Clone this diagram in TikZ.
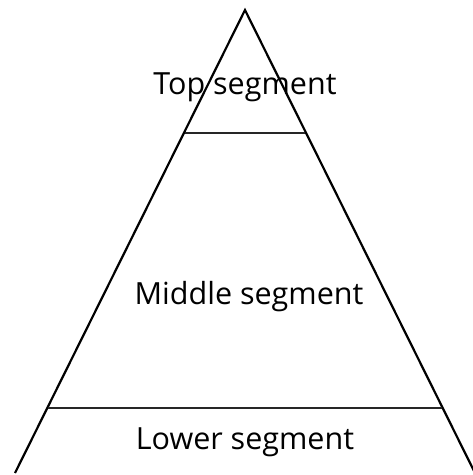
\documentclass[tikz,border=0pt]{standalone}
\usepackage{fontspec}
\setmainfont{Open Sans}
\usepackage{tikz}
\usetikzlibrary{positioning}

\begin{document}
\begin{tikzpicture}[x=1pt, y=-1pt,
    side/.style={line width=2.2pt, line join=miter},
    cut/.style={line width=1.8pt, black!85},
    seglabel/.style={anchor=base, inner sep=0pt, font=\fontsize{30.5}{33}\selectfont}
]
\useasboundingbox (0,0) rectangle (473,475);

% ---- Triangulo ----
\coordinate (apex) at (245,10);
\coordinate (bl) at (15,473);
\coordinate (br) at (475,473);

% Cortes
\coordinate (tl) at (185,133);
\coordinate (tr) at (305,133);
\coordinate (ll) at (48,408);
\coordinate (lr) at (442,408);

\draw[side] (bl) -- (apex) -- (br);
\draw[cut] (tl) -- (tr);
\draw[cut] (ll) -- (lr);

% Etiquetas
\node[seglabel] (top) at (245,94) {Top segment};
\node[seglabel] (mid) at (249,304) {Middle segment};
\node[seglabel] (low) at (245,449) {Lower segment};

\end{tikzpicture}
\end{document}
